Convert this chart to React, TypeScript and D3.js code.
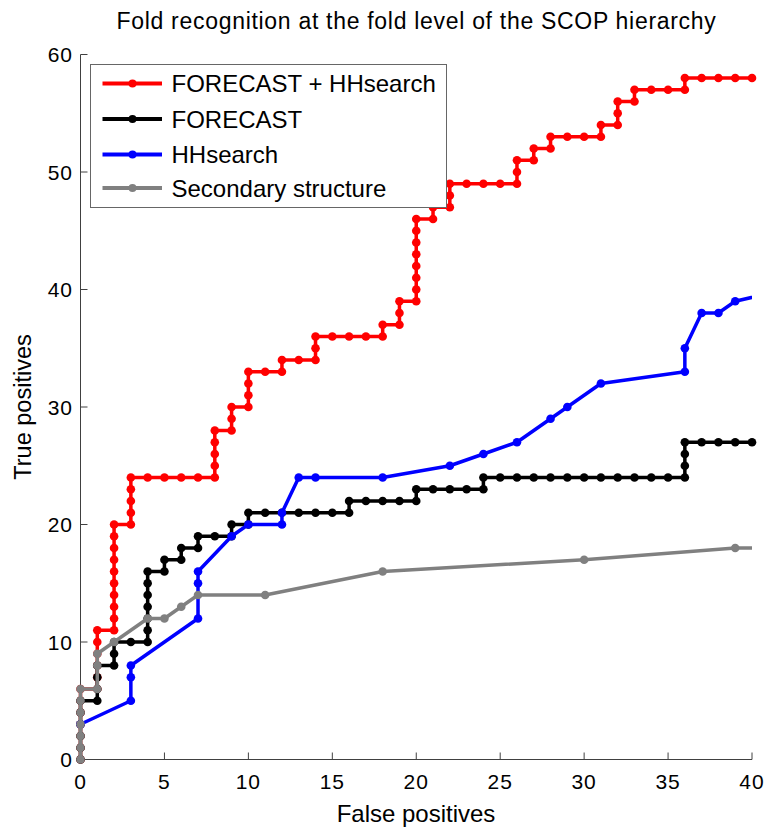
import React from "react";
import * as d3 from "d3";

const W = 766;
const H = 827;

const titleText = "Fold recognition at the fold level of the SCOP hierarchy";
const xLabel = "False positives";
const yLabel = "True positives";

const xTicks = [0, 5, 10, 15, 20, 25, 30, 35, 40];
const yTicks = [0, 10, 20, 30, 40, 50, 60];

const seriesNames = ["FORECAST + HHsearch", "FORECAST", "HHsearch", "Secondary structure"];
const seriesColors = ["#ff0000", "#000000", "#0000ff", "#808080"];

// FORECAST + HHsearch
const redFP = [0, 0, 0, 0, 0, 0, 0, 1, 1, 1, 1, 1, 1, 2, 2, 2, 2, 2, 2, 2, 2, 2, 2, 3, 3, 3, 3, 3, 4, 5, 6, 7, 8, 8, 8, 8, 8, 9, 9, 9, 10, 10, 10, 10, 11, 12, 12, 13, 14, 14, 14, 15, 16, 17, 18, 18, 19, 19, 19, 20, 20, 20, 20, 20, 20, 20, 20, 21, 21, 22, 22, 22, 23, 24, 25, 26, 26, 26, 27, 27, 28, 28, 29, 30, 31, 31, 32, 32, 32, 33, 33, 34, 35, 36, 36, 37, 38, 39, 40];
const redTP = [0, 1, 2, 3, 4, 5, 6, 6, 7, 8, 9, 10, 11, 11, 12, 13, 14, 15, 16, 17, 18, 19, 20, 20, 21, 22, 23, 24, 24, 24, 24, 24, 24, 25, 26, 27, 28, 28, 29, 30, 30, 31, 32, 33, 33, 33, 34, 34, 34, 35, 36, 36, 36, 36, 36, 37, 37, 38, 39, 39, 40, 41, 42, 43, 44, 45, 46, 46, 47, 47, 48, 49, 49, 49, 49, 49, 50, 51, 51, 52, 52, 53, 53, 53, 53, 54, 54, 55, 56, 56, 57, 57, 57, 57, 58, 58, 58, 58, 58];

// FORECAST
const blackFP = [0, 0, 0, 0, 0, 0, 1, 1, 1, 1, 2, 2, 2, 3, 4, 4, 4, 4, 4, 4, 4, 5, 5, 6, 6, 7, 7, 8, 9, 9, 10, 10, 11, 12, 13, 14, 15, 16, 16, 17, 18, 19, 20, 20, 21, 22, 23, 24, 24, 25, 26, 27, 28, 29, 30, 31, 32, 33, 34, 35, 36, 36, 36, 36, 37, 38, 39, 40];
const blackTP = [0, 1, 2, 3, 4, 5, 5, 6, 7, 8, 8, 9, 10, 10, 10, 11, 12, 13, 14, 15, 16, 16, 17, 17, 18, 18, 19, 19, 19, 20, 20, 21, 21, 21, 21, 21, 21, 21, 22, 22, 22, 22, 22, 23, 23, 23, 23, 23, 24, 24, 24, 24, 24, 24, 24, 24, 24, 24, 24, 24, 24, 25, 26, 27, 27, 27, 27, 27];

// HHsearch
const blueFP = [0, 3, 3, 3, 7, 7, 7, 9, 10, 12, 12, 13, 14, 18, 22, 24, 26, 28, 29, 31, 36, 36, 37, 38, 39, 42];
const blueTP = [3, 5, 7, 8, 12, 15, 16, 19, 20, 20, 21, 24, 24, 24, 25, 26, 27, 29, 30, 32, 33, 35, 38, 38, 39, 40];

// Secondary structure
const grayFP = [0, 0, 0, 0, 0, 0, 0, 1, 1, 1, 2, 4, 5, 6, 7, 11, 18, 30, 39, 45];
const grayTP = [0, 1, 2, 3, 4, 5, 6, 6, 8, 9, 10, 12, 12, 13, 14, 14, 16, 17, 18, 18];

const seriesFP = [redFP, blackFP, blueFP, grayFP];
const seriesTP = [redTP, blackTP, blueTP, grayTP];

const FONT = "'Liberation Sans', Arial, Helvetica, sans-serif";

export default function App() {
  const left = 80.5;
  const right = 752;
  const top = 54.5;
  const bottom = 759.5;

  const x = d3.scaleLinear().domain([0, 40]).range([left, right]);
  const y = d3.scaleLinear().domain([0, 60]).range([bottom, top]);

  const line = d3
    .line<[number, number]>()
    .x((d) => x(d[0]))
    .y((d) => y(d[1]));

  const axisColor = "#404040";

  const legendX = 90.5;
  const legendY = 64.5;
  const legendW = 356;
  const legendH = 143;
  const rowYs = [83.5, 119, 154.5, 188];

  return (
    <svg
      width={W}
      height={H}
      style={{ position: "absolute", left: 0, top: 0, display: "block", background: "#fff" }}
      fontFamily={FONT}
    >
      <defs>
        <clipPath id="plotClip">
          <rect x={0} y={0} width={right} height={H} />
        </clipPath>
      </defs>
      <rect x={0} y={0} width={W} height={H} fill="#fff" />

      {/* title */}
      <text x={416.5} y={29} textAnchor="middle" fontSize={23} letterSpacing={0.7} fill="#000">
        {titleText}
      </text>

      {/* axes */}
      <line x1={left} x2={left} y1={top} y2={bottom} stroke={axisColor} strokeWidth={1} />
      <line x1={left} x2={right} y1={bottom} y2={bottom} stroke={axisColor} strokeWidth={1} />
      {xTicks.map((t) => (
        <g key={"xt" + t}>
          <line x1={x(t)} x2={x(t)} y1={bottom} y2={bottom - 7} stroke={axisColor} strokeWidth={1} />
          <text x={x(t)} y={789} textAnchor="middle" fontSize={21} letterSpacing={1} fill="#000">
            {t}
          </text>
        </g>
      ))}
      {yTicks.map((t) => (
        <g key={"yt" + t}>
          <line x1={left} x2={left + 7} y1={y(t)} y2={y(t)} stroke={axisColor} strokeWidth={1} />
          <text x={73} y={y(t) + 7.5} textAnchor="end" fontSize={21} letterSpacing={1} fill="#000">
            {t}
          </text>
        </g>
      ))}

      <text x={416} y={822} textAnchor="middle" fontSize={24} fill="#000">
        {xLabel}
      </text>
      <text
        transform={`translate(31, ${(top + bottom) / 2}) rotate(-90)`}
        textAnchor="middle"
        fontSize={23.5}
        fill="#000"
      >
        {yLabel}
      </text>

      {/* series */}
      {seriesFP.map((fp, si) => {
        const pts: [number, number][] = fp.map((v, i) => [v, seriesTP[si][i]]);
        return (
          <g key={"s" + si}>
            <path
              d={line(pts) || ""}
              fill="none"
              stroke={seriesColors[si]}
              strokeWidth={3.5}
              strokeLinejoin="round"
              clipPath="url(#plotClip)"
            />
            {pts
              .filter((p) => p[0] <= 40)
              .map((p, i) => (
                <circle key={i} cx={x(p[0])} cy={y(p[1])} r={4.3} fill={seriesColors[si]} />
              ))}
          </g>
        );
      })}

      {/* legend */}
      <rect x={legendX} y={legendY} width={legendW} height={legendH} fill="#fff" stroke="#666" strokeWidth={1} />
      {seriesNames.map((name, i) => (
        <g key={"lg" + i}>
          <line x1={102.5} x2={162} y1={rowYs[i]} y2={rowYs[i]} stroke={seriesColors[i]} strokeWidth={4} />
          <circle cx={132.5} cy={rowYs[i]} r={4} fill={seriesColors[i]} />
          <text x={171.5} y={rowYs[i] + 8.5} fontSize={24} fill="#000">
            {name}
          </text>
        </g>
      ))}
    </svg>
  );
}
